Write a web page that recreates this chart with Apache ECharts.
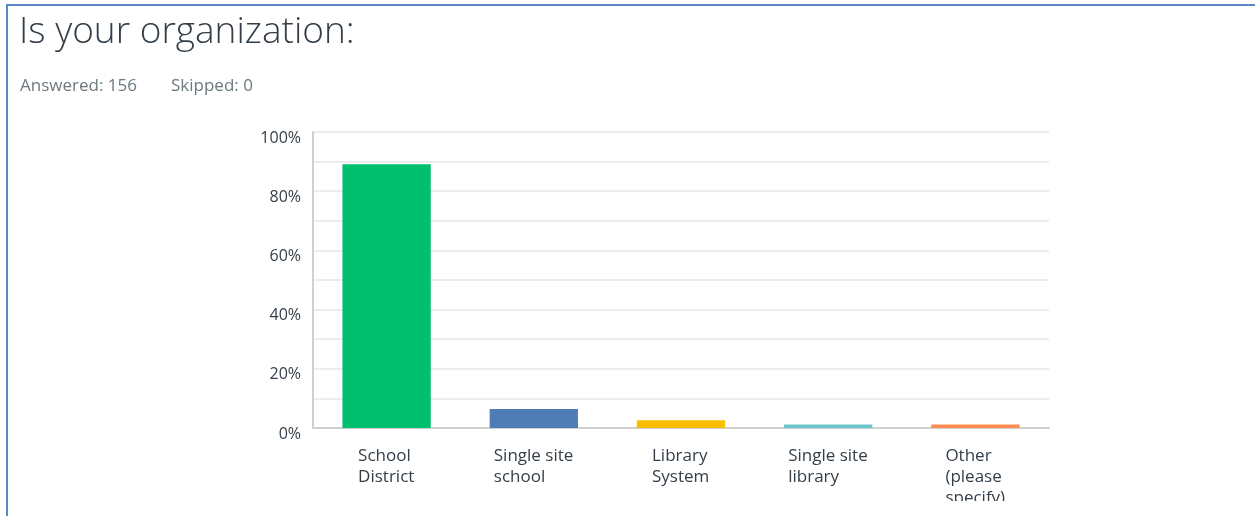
<!DOCTYPE html>
<html><head><meta charset="utf-8">
<script src="https://cdn.jsdelivr.net/npm/echarts@6/dist/echarts.min.js"></script>
<style>
html,body{margin:0;padding:0;background:#fff;}
#frame{position:absolute;left:0;top:0;width:1255px;height:516px;overflow:hidden;}
#bt{position:absolute;left:6px;top:4px;width:1249px;height:2px;background:#5b87c6;}
#bl{position:absolute;left:6px;top:4px;width:2px;height:512px;background:#5b87c6;}
#chart{position:absolute;left:0;top:0;width:1255px;height:501px;overflow:hidden;}
</style></head>
<body>
<div id="frame"><div id="chart"></div><div id="bt"></div><div id="bl"></div></div>
<script>
const titleText = 'Is your organization:';
const answeredText = 'Answered: 156';
const skippedText = 'Skipped: 0';
const categories = ['School\nDistrict', 'Single site\nschool', 'Library\nSystem', 'Single site\nlibrary', 'Other\n(please\nspecify)'];
const values = [89.1, 6.4, 2.6, 1.2, 1.2];
const barColors = ['#00bf6f', '#507cb6', '#f9be00', '#6bc8cd', '#ff8b4f'];
const yTicks = [0, 20, 40, 60, 80, 100];

const FONT = '"Open Sans", sans-serif';
const XFS = 17;
const ctx = document.createElement('canvas').getContext('2d');
ctx.font = XFS + 'px ' + FONT;
const rich = {};
categories.forEach((c, i) => {
  const w = Math.max(...c.split('\n').map(s => ctx.measureText(s).width));
  rich['c' + i] = { width: Math.ceil(w), align: 'left', fontSize: XFS, lineHeight: 21, color: '#333e48', fontFamily: FONT };
});
const subStyle = { fontFamily: FONT, fontSize: 17, fontWeight: 'normal', color: '#6b787f' };

const chart = echarts.init(document.getElementById('chart'), null, {renderer: 'canvas'});
chart.setOption({
  animation: false,
  title: [
    { text: titleText, left: 14, top: 9, padding: 5, textStyle: { fontFamily: FONT, fontSize: 37, fontWeight: 300, color: '#333e48' } },
    { text: answeredText, left: 15, top: 73, padding: 5, textStyle: subStyle },
    { text: skippedText, left: 166, top: 73, padding: 5, textStyle: subStyle }
  ],
  grid: { left: 313, right: 206, top: 132, bottom: 73, outerBoundsMode: 'none', containLabel: false },
  xAxis: {
    type: 'category', data: categories,
    axisLine: { lineStyle: { color: '#d0d0d0', width: 2 } },
    axisTick: { show: false },
    axisLabel: {
      margin: 18, interval: 0,
      formatter: (v, i) => v.split('\n').map(s => '{c' + i + '|' + s + '}').join('\n'),
      rich: rich
    }
  },
  yAxis: {
    type: 'value', min: 0, max: 100, interval: 10,
    axisLine: { show: true, lineStyle: { color: '#d0d0d0', width: 2 } },
    axisTick: { show: false },
    splitLine: { lineStyle: { color: '#ececec', width: 2 } },
    axisLabel: {
      margin: 12, fontFamily: FONT, fontSize: 16, color: '#333e48',
      verticalAlign: 'top', lineHeight: 12,
      formatter: v => yTicks.includes(v) ? v + '%' : ''
    }
  },
  series: [{
    type: 'bar', barWidth: '60%',
    data: values.map((v, i) => ({ value: v, itemStyle: { color: barColors[i] } }))
  }]
});
</script>
</body></html>
